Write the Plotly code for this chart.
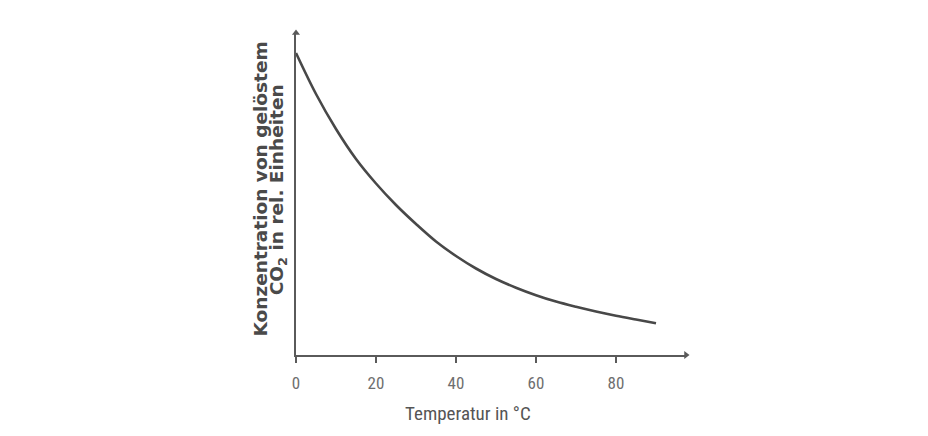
import plotly.graph_objects as go

# Data (relative units)
temperature = [0, 5, 10, 15, 20, 25, 30, 35, 40, 45, 50, 55, 60, 65, 70, 75, 80, 85, 90]
co2_conc = [3.02, 2.61, 2.26, 1.96, 1.715, 1.50, 1.31, 1.135, 0.99, 0.865, 0.76, 0.673,
            0.598, 0.534, 0.482, 0.435, 0.393, 0.355, 0.318]
x_ticks = [0, 20, 40, 60, 80]
x_title = "Temperatur in °C"
y_title_1 = "Konzentration von gelöstem"
y_title_2 = "CO<sub>2</sub> in rel. Einheiten"

X_MAX = 97.5
Y_MAX = 3.22
AXIS_COLOR = "#5a5a5a"
NARROW = "Liberation Sans Narrow, Arial Narrow, Roboto Condensed, Roboto, sans-serif"

fig = go.Figure()
fig.add_trace(go.Scatter(
    x=temperature, y=co2_conc, mode="lines",
    line=dict(color="#484848", width=2.6, shape="spline", smoothing=1.0),
    hoverinfo="skip", showlegend=False,
))

# axis arrowheads
fig.add_trace(go.Scatter(
    x=[X_MAX, 0], y=[0, Y_MAX], mode="markers", cliponaxis=False,
    marker=dict(symbol=["triangle-right", "triangle-up"], size=7, color=AXIS_COLOR),
    hoverinfo="skip", showlegend=False,
))

fig.update_layout(
    width=928, height=436,
    margin=dict(l=288, r=250, t=25, b=89),
    paper_bgcolor="white", plot_bgcolor="white",
    xaxis=dict(
        range=[0, X_MAX], tickvals=x_ticks, ticktext=[str(v) for v in x_ticks],
        showgrid=False, zeroline=False, showline=True, linecolor=AXIS_COLOR, linewidth=2.2,
        ticks="outside", ticklen=6, tickwidth=1.5, tickcolor=AXIS_COLOR,
        ticklabelstandoff=5,
        tickfont=dict(family=NARROW, size=17, color="#6e6e6e"),
    ),
    yaxis=dict(
        range=[0, Y_MAX], showticklabels=False, showgrid=False, zeroline=False,
        showline=True, linecolor=AXIS_COLOR, linewidth=2.2, ticks="",
    ),
)

# x axis title
fig.add_annotation(x=43, y=-0.181, xref="x", yref="paper", text=x_title, showarrow=False,
                   font=dict(family=NARROW, size=19, color="#555555"), yanchor="middle")

# y axis title (two lines)
fig.add_annotation(x=-0.0923, y=0.514, xref="paper", yref="paper", text=y_title_1, showarrow=False,
                   textangle=-90, font=dict(family="DejaVu Sans", size=18.5, color="#4a4a4a", weight="bold"),
                   xanchor="center", yanchor="middle")
fig.add_annotation(x=-0.044, y=0.514, xref="paper", yref="paper", text=y_title_2, showarrow=False,
                   textangle=-90, font=dict(family="DejaVu Sans", size=18.5, color="#4a4a4a", weight="bold"),
                   xanchor="center", yanchor="middle")

fig.write_html("out.html")
